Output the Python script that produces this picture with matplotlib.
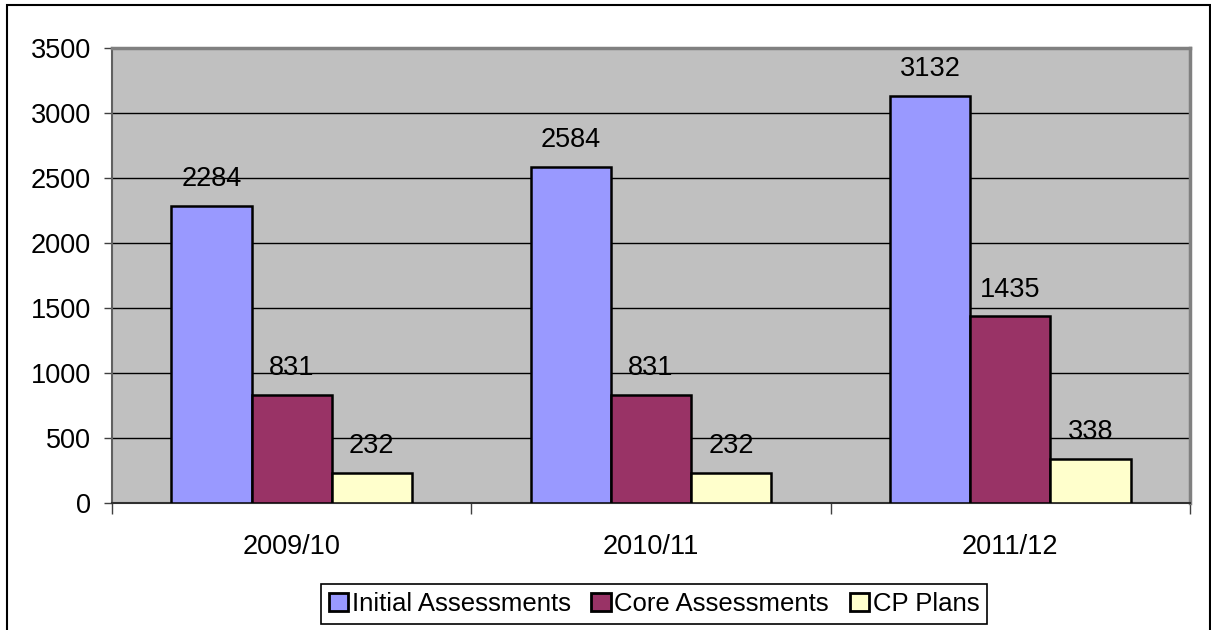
import matplotlib
matplotlib.use("Agg")
import matplotlib.pyplot as plt
import numpy as np
from matplotlib.patches import Rectangle

categories = ["2009/10", "2010/11", "2011/12"]
series_names = ["Initial Assessments", "Core Assessments", "CP Plans"]
initial = [2284, 2584, 3132]
core = [831, 831, 1435]
cp_plans = [232, 232, 338]
colors = ["#9999FF", "#993366", "#FFFFCC"]

plt.rcParams['font.family'] = ['Liberation Sans', 'DejaVu Sans']

fig = plt.figure(figsize=(12.11, 6.30), dpi=100)
ax = fig.add_axes([112/1211, 1-503/630, (1190-112)/1211, (503-48)/630])
ax.set_facecolor("#C0C0C0")

x = np.arange(len(categories))
w = 0.223
series = [initial, core, cp_plans]
for i, (vals, name, c) in enumerate(zip(series, series_names, colors)):
    pos = x + (i - 1) * w
    bars = ax.bar(pos, vals, width=w, color=c, edgecolor="black", linewidth=1.8,
                  label=name, zorder=3)
    for b, v in zip(bars, vals):
        ax.text(b.get_x() + b.get_width()/2, v + 105, str(v), ha="center",
                va="bottom", fontsize=19.5, color="black", zorder=4)

ax.set_xlim(-0.5, len(categories) - 0.5)
ax.set_ylim(0, 3500)
ax.set_yticks(np.arange(0, 3501, 500))
ax.yaxis.grid(True, color="black", linewidth=1.0, zorder=1)
ax.set_axisbelow(True)

ax.set_xticks(x)
ax.set_xticklabels(categories, fontsize=19.5)
ax.set_xticks(np.arange(-0.5, len(categories)), minor=True)
ax.tick_params(axis="x", which="major", length=0, pad=22)
ax.tick_params(axis="x", which="minor", length=8, width=1, color="#404040", direction="out")
ax.tick_params(axis="y", labelsize=19.5, length=6, width=1, color="#404040", pad=9)

for s in ["top", "right"]:
    ax.spines[s].set_color("#808080")
    ax.spines[s].set_linewidth(2.5)
ax.spines["left"].set_color("#606060")
ax.spines["left"].set_linewidth(1.5)
ax.spines["bottom"].set_color("#303030")
ax.spines["bottom"].set_linewidth(1.5)

leg = fig.legend(loc="center", bbox_to_anchor=(654/1211, 1-604/630), ncol=3,
                 frameon=True, fancybox=False, edgecolor="black", framealpha=1,
                 handlelength=0.75, handleheight=0.75, handletextpad=0.15,
                 columnspacing=0.8, borderpad=0.3,
                 prop={'family': ['Liberation Sans', 'DejaVu Sans'], 'size': 18.5})
leg.get_frame().set_linewidth(1.2)
for h in leg.legend_handles:
    h.set_linewidth(2)

fig.patches.append(Rectangle((7/1211, -0.01), (1210-7)/1211, 1-5/630 + 0.01,
                             transform=fig.transFigure, fill=False,
                             edgecolor="black", linewidth=1.5))

fig.savefig("out.png", dpi=100)
